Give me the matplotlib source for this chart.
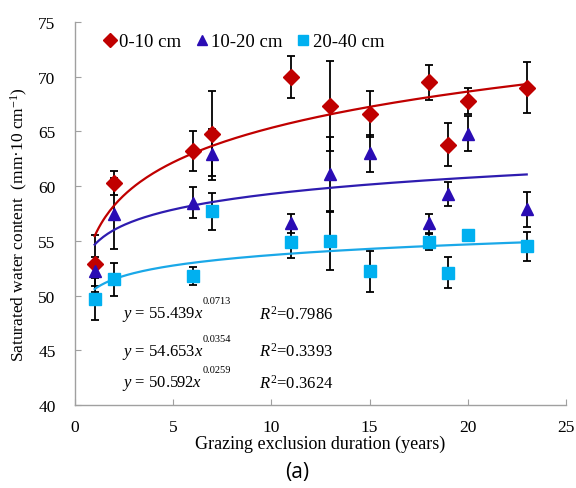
import numpy as np
import matplotlib
matplotlib.use("Agg")
import matplotlib.pyplot as plt

SERIF = ['Liberation Serif', 'DejaVu Serif']
plt.rcParams['font.family'] = SERIF
plt.rcParams['mathtext.fontset'] = 'custom'
plt.rcParams['mathtext.rm'] = 'Liberation Serif'
plt.rcParams['mathtext.it'] = 'Liberation Serif:italic'

# Years since grazing exclusion
years = [1, 2, 6, 7, 11, 13, 15, 18, 19, 20, 23]

# Saturated water content by soil depth (mean and error)
swc_0_10 = [52.9, 60.3, 63.2, 64.8, 70.0, 67.3, 66.6, 69.5, 63.8, 67.8, 69.0]
err_0_10 = [2.6, 1.1, 1.8, 3.9, 1.9, 4.1, 2.1, 1.6, 2.0, 1.2, 2.3]
swc_10_20 = [52.2, 57.5, 58.5, 62.9, 56.6, 61.1, 63.0, 56.6, 59.3, 64.8, 57.9]
err_10_20 = [1.3, 3.2, 1.4, 2.3, 0.9, 3.4, 1.7, 0.9, 1.1, 1.6, 1.6]
swc_20_40 = [49.7, 51.5, 51.8, 57.7, 54.9, 55.0, 52.2, 54.9, 52.1, 55.5, 54.5]
err_20_40 = [1.9, 1.5, 0.8, 1.7, 1.5, 2.65, 1.85, 0.7, 1.4, 0.4, 1.3]

# Power-law fits y = a * x^b
fit_a = [55.439, 54.653, 50.592]
fit_b = [0.0713, 0.0354, 0.0259]
fit_r2 = ["0.7986", "0.3393", "0.3624"]

x_ticks = [0, 5, 10, 15, 20, 25]
y_ticks = [40, 45, 50, 55, 60, 65, 70, 75]

labels = ["0-10 cm", "10-20 cm", "20-40 cm"]
markers = ["D", "^", "s"]
msizes = [8, 9, 9]
colors = ["#C00000", "#2A0CB4", "#00B0F0"]
line_colors = ["#C00000", "#2E1CB0", "#1AA8E8"]

W, H = 576, 489
fig = plt.figure(figsize=(W / 100, H / 100), dpi=100)
ax = fig.add_axes([75 / W, 1 - 406 / H, (566 - 75) / W, (406 - 23) / H])

series = [(swc_0_10, err_0_10), (swc_10_20, err_10_20), (swc_20_40, err_20_40)]
xfit = np.linspace(1, 23, 200)
for vals, errs in series:
    ax.errorbar(years, vals, yerr=errs, fmt='none', ecolor='black',
                elinewidth=1.3, capsize=3.0, capthick=1.3, zorder=2)
for i in range(3):
    ax.plot(xfit, fit_a[i] * xfit ** fit_b[i], color=line_colors[i], lw=1.6, zorder=3)
for i, (vals, errs) in enumerate(series):
    ax.plot(years, vals, linestyle='none', marker=markers[i], ms=msizes[i],
            color=colors[i], mec=colors[i], label=labels[i], zorder=4)

ax.set_xlim(0, 25)
ax.set_ylim(40, 75)
ax.set_xticks(x_ticks)
ax.set_xticklabels([str(t) for t in x_ticks], fontfamily=SERIF, fontsize=12.5)
ax.set_yticks(y_ticks)
ax.set_yticklabels([str(t) for t in y_ticks], fontfamily=SERIF, fontsize=12.5)
for s in ['top', 'right']:
    ax.spines[s].set_visible(False)
for s in ['left', 'bottom']:
    ax.spines[s].set_color('#A0A0A0')
    ax.spines[s].set_linewidth(1.0)
ax.tick_params(direction='in', length=4, color='#A0A0A0')
ax.tick_params(axis='y', pad=14)
ax.tick_params(axis='x', pad=10)

fig.text(320 / W, 1 - 444 / H, "Grazing exclusion duration (years)",
         fontsize=13, ha='center', va='center')
fig.text(19 / W, 1 - 225 / H, "Saturated water content  (mm·10 cm$^{-1}$)",
         fontsize=12.5, ha='center', va='center', rotation=90)

ax.legend(loc='upper left', ncol=3, frameon=False, fontsize=13.5,
          handletextpad=-0.1, columnspacing=0.5, handlelength=1.2,
          markerscale=0.85, bbox_to_anchor=(0.025, 1.0), borderaxespad=0.2)

rows_y = [315, 352, 384]
for i in range(3):
    eq = r"$y$ = %.3f$x$" % fit_a[i]
    fig.text(122 / W, 1 - rows_y[i] / H, eq, fontsize=12, va='center', ha='left')
    fig.text(203 / W, 1 - (rows_y[i] - 13) / H, "%.4f" % fit_b[i],
             fontsize=7.5, va='center', ha='left')
    fig.text(259 / W, 1 - rows_y[i] / H, r"$R^{2}$=" + fit_r2[i],
             fontsize=12, va='center', ha='left')

fig.text(297 / W, 1 - 473 / H, "(a)", fontsize=15, family='Open Sans',
         ha='center', va='center')

fig.savefig("out.png", dpi=100)
